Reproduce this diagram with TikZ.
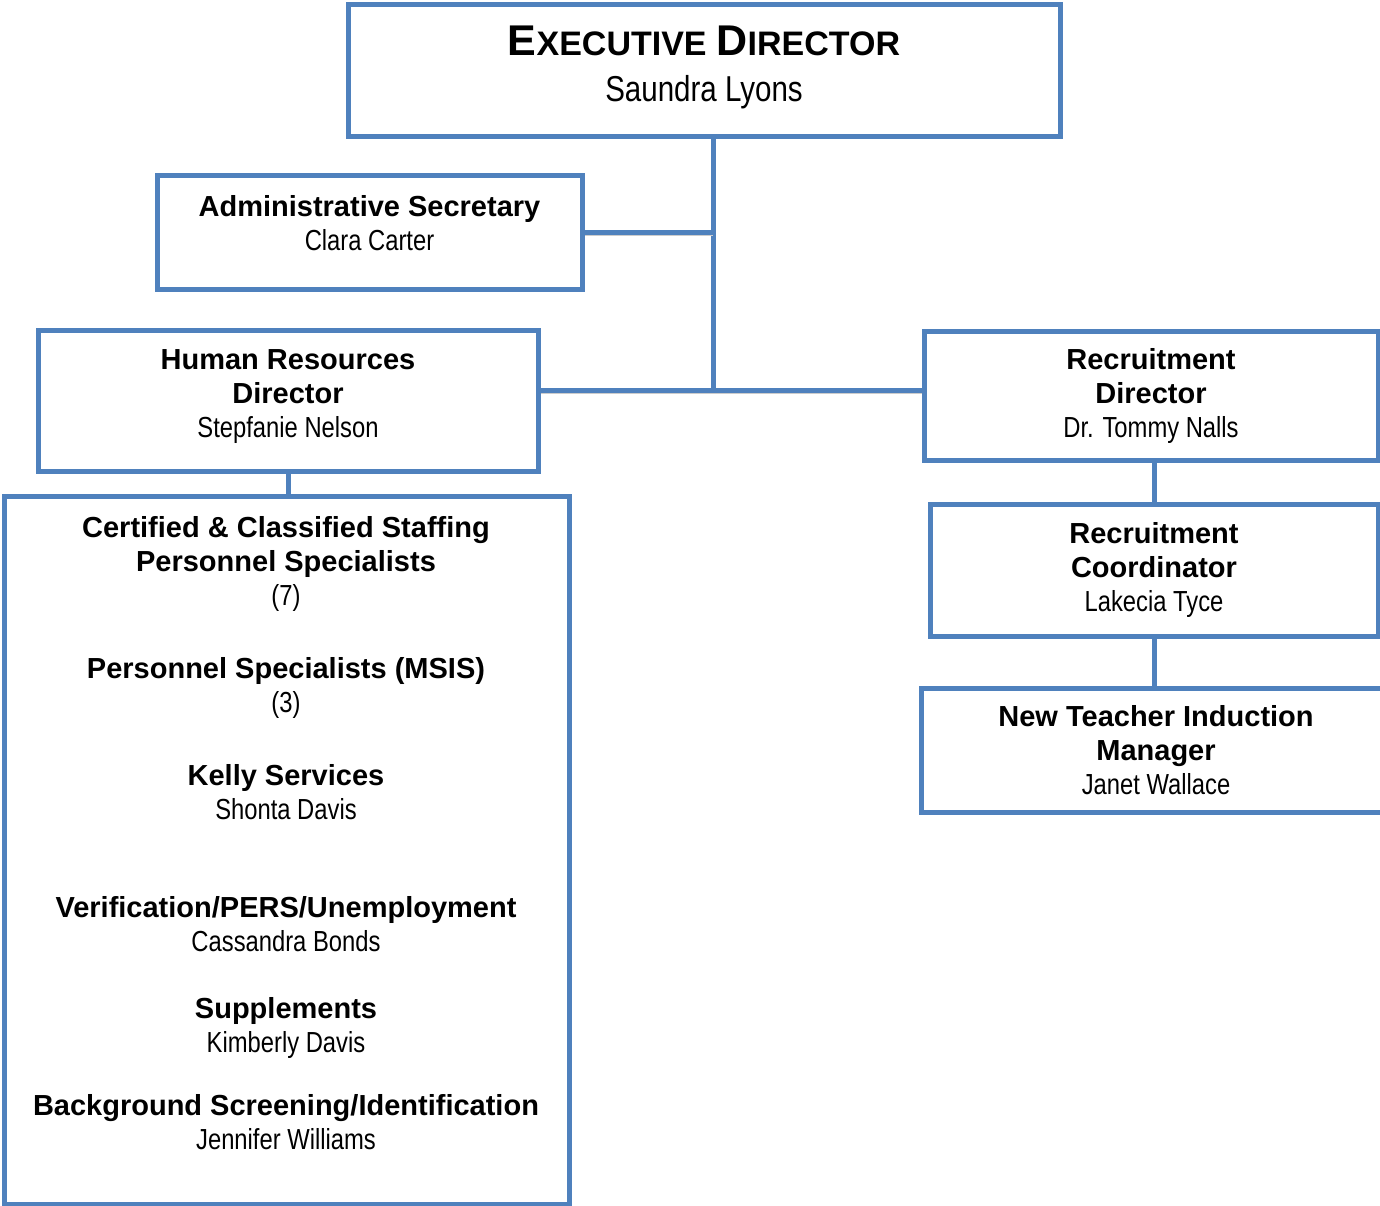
\documentclass[tikz,border=0pt]{standalone}
\usepackage{fontspec}
\setmainfont{Liberation Sans}
\newfontfamily\namefont[FakeStretch=0.82]{Liberation Sans}
\usetikzlibrary{positioning,backgrounds}

\definecolor{orgblue}{HTML}{4F81BD}

\newcommand{\hd}[1]{{\bfseries #1}}
\newcommand{\who}[1]{{\namefont #1}}

\tikzset{
  unit/.style={draw=orgblue, line width=5pt, fill=white, align=center, inner sep=0pt,
    font=\fontsize{29}{34}\selectfont},
  entry/.style={align=center, inner sep=0pt, font=\fontsize{29}{34}\selectfont},
  link/.style={draw=orgblue, line width=5pt,
    preaction={draw=black!20, transform canvas={yshift=-3pt}}},
}

\begin{document}
\begin{tikzpicture}[x=1pt, y=-1pt]
\useasboundingbox (0,0) rectangle (1380,1206);

% Boxes
\node[unit, minimum width=712pt, minimum height=132pt, text depth=14pt,
  font=\fontsize{36}{46}\selectfont] (exec) at (704,71)
  {{\fontsize{43}{48}\selectfont\bfseries E}{\fontsize{34}{48}\selectfont\bfseries XECUTIVE}
   {\fontsize{43}{48}\selectfont\bfseries D}{\fontsize{34}{48}\selectfont\bfseries IRECTOR}\\
   {\namefont Saundra Lyons}};
\node[unit, minimum width=425pt, minimum height=113pt, text depth=20pt] (admin) at (369.5,232.5)
  {\hd{Administrative Secretary}\\ \who{Clara Carter}};
\node[unit, minimum width=500pt, minimum height=141pt, text depth=13pt] (hr) at (288,400.5)
  {\hd{Human Resources}\\ \hd{Director}\\ \who{Stepfanie Nelson}};
\node[unit, minimum width=454pt, minimum height=129pt] (rdir) at (1151,395.5)
  {\hd{Recruitment}\\ \hd{Director}\\ \who{Dr. Tommy Nalls}};
\node[unit, minimum width=448pt, minimum height=132pt] (rcoord) at (1154,570)
  {\hd{Recruitment}\\ \hd{Coordinator}\\ \who{Lakecia Tyce}};
\node[unit, minimum width=470pt, minimum height=124pt] (ntim) at (1156,750)
  {\hd{New Teacher Induction}\\ \hd{Manager}\\ \who{Janet Wallace}};
\node[unit, minimum width=565pt, minimum height=708pt] (staff) at (286.5,850) {};

% Staff entries
\node[entry] (cert) at (286,564)
  {\hd{Certified \& Classified Staffing}\\ \hd{Personnel Specialists}\\ \who{(7)}};
\node[entry] (msis) at (286,688) {\hd{Personnel Specialists (MSIS)}\\ \who{(3)}};
\node[entry] (kelly) at (286,792) {\hd{Kelly Services}\\ \who{Shonta Davis}};
\node[entry] (verif) at (286,924) {\hd{Verification/PERS/Unemployment}\\ \who{Cassandra Bonds}};
\node[entry] (supp) at (286,1028) {\hd{Supplements}\\ \who{Kimberly Davis}};
\node[entry] (screen) at (286,1122.5) {\hd{Background Screening/Identification}\\ \who{Jennifer Williams}};

% Links
\coordinate (junction) at (713,390);
\begin{pgfonlayer}{background}
\draw[link] (exec.south -| junction) -- (junction);
\draw[link] (admin.east) -- (admin.east -| junction);
\draw[link] (hr.east |- junction) -- (rdir.west |- junction);
\draw[link] (hr.south) -- (hr.south |- staff.north);
\draw[link] (rcoord.north |- rdir.south) -- (rcoord.north);
\draw[link] (rcoord.south) -- (rcoord.south |- ntim.north);
\end{pgfonlayer}

\end{tikzpicture}
\end{document}
